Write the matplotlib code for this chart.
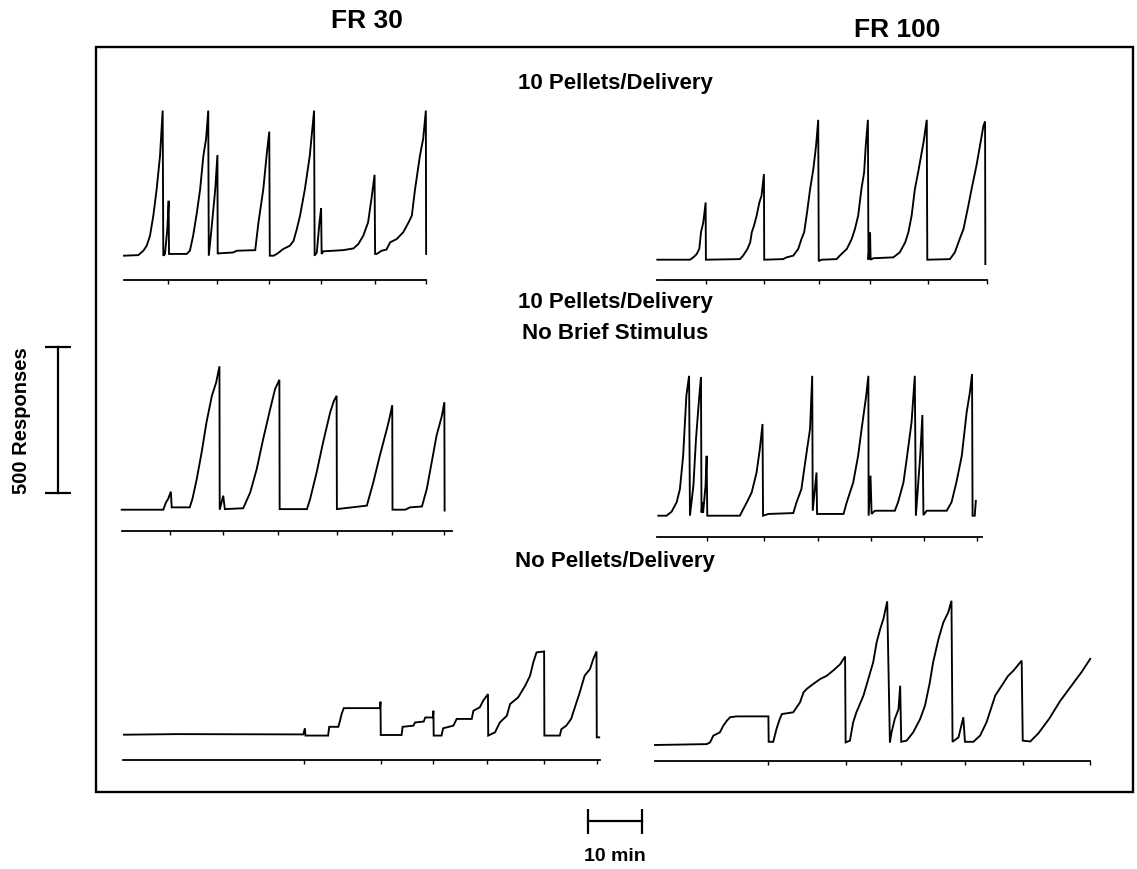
import numpy as np
import matplotlib
matplotlib.use("Agg")
import matplotlib.pyplot as plt
from matplotlib.patches import Rectangle

plt.rcParams['font.family'] = ['Liberation Sans', 'DejaVu Sans']

# cumulative records: (minutes, cumulative responses since last pen reset)
fr30_pellets = [
    (0, 0), (2.65, 2), (3.58, 17), (4.2, 34), (4.81, 68), (5.43, 137), (6.05, 228),
    (6.67, 342), (7.16, 497), (7.28, 0), (7.59, 6), (8.02, 91), (8.27, 188), (8.33, 6),
    (8.52, 6), (11.6, 6), (12.2, 17), (12.8, 68), (13.5, 148), (14.1, 228), (14.7, 342),
    (15.2, 400), (15.6, 497), (15.7, 0), (16.2, 91), (16.9, 228), (17.3, 345), (17.35, 6),
    (17.5, 8), (20.2, 11), (20.9, 17), (24.3, 19), (24.9, 114), (25.8, 228), (26.4, 342),
    (26.9, 425), (27.0, 0), (27.7, 0), (28.3, 6), (29.5, 23), (30.7, 34), (31.4, 51),
    (32.0, 91), (32.6, 137), (33.5, 228), (34.4, 342), (35.2, 497), (35.3, 0), (35.7, 11),
    (36.2, 114), (36.5, 162), (36.6, 6), (36.9, 15), (40.6, 19), (42.5, 25), (43.4, 40),
    (44.3, 68), (45.2, 114), (45.9, 205), (46.4, 277), (46.5, 6), (46.8, 6), (47.7, 17),
    (48.6, 21), (49.3, 46), (50.5, 57), (51.7, 80), (52.7, 114), (53.3, 137), (53.9, 228),
    (54.8, 342), (55.4, 400), (55.9, 497), (55.95, 6),
]
fr30_pellets_marks = [8.2, 17.3, 26.9, 36.4, 46.4, 56.0]

fr100_pellets = [
    (0, 0), (6.05, 0), (6.67, 8), (7.28, 19), (7.78, 37), (8.09, 94), (8.52, 128),
    (8.95, 196), (9.0, 0), (15.3, 2), (15.9, 14), (16.7, 37), (17.2, 59), (17.5, 94),
    (17.9, 116), (18.4, 151), (18.9, 196), (19.3, 219), (19.75, 293), (19.8, 0), (23.3, 2),
    (23.95, 8), (25.2, 14), (26.1, 37), (26.7, 71), (27.2, 94), (27.65, 151), (28.3, 242),
    (28.9, 311), (29.4, 390), (29.8, 479), (29.9, -5), (30.4, 0), (33.2, 2), (33.8, 14),
    (35.1, 37), (36.0, 71), (36.6, 105), (37.2, 151), (37.8, 242), (38.3, 299), (38.6, 390),
    (39.0, 479), (39.1, 0), (39.4, 94), (39.5, 0), (40.0, 5), (43.7, 8), (44.9, 25),
    (45.9, 59), (46.5, 94), (47.1, 151), (47.7, 242), (48.3, 299), (49.3, 402), (49.9, 479),
    (50.0, 0), (54.2, 2), (55.1, 25), (56.0, 71), (56.7, 105), (57.6, 185), (58.2, 242),
    (59.1, 322), (59.75, 390), (60.4, 459), (60.7, 473), (60.75, -15),
]
fr100_pellets_marks = [8.95, 19.75, 29.9, 39.4, 50.2, 61.0]

fr30_nostim = [
    (0, 0), (7.7, 0), (8.2, 25), (8.6, 37), (9.1, 62), (9.26, 8), (12.6, 8), (13.1, 37),
    (13.9, 105), (14.8, 196), (15.7, 299), (16.7, 390), (17.5, 436), (18.1, 491), (18.15, 0),
    (18.8, 48), (19.1, 2), (22.5, 5), (23.8, 59), (25.0, 139), (26.2, 242), (27.5, 345),
    (28.4, 413), (29.2, 445), (29.25, 2), (34.3, 2), (34.9, 37), (36.1, 128), (37.3, 231),
    (38.6, 333), (39.3, 373), (39.8, 390), (39.85, 2), (45.4, 14), (46.6, 94), (47.8, 185),
    (49.1, 276), (49.7, 322), (50.1, 358), (50.15, 0), (52.5, 0), (53.4, 8), (55.6, 11),
    (56.5, 71), (57.4, 162), (58.3, 253), (59.3, 322), (59.75, 368), (59.8, -3),
]
fr30_nostim_marks = [8.95, 18.8, 29.0, 39.8, 50.0, 59.75]

fr100_nostim = [
    (0, 0), (1.54, 0), (2.47, 14), (3.4, 46), (4.0, 91), (4.6, 205), (5.2, 411), (5.7, 479),
    (5.86, 0), (6.5, 103), (6.98, 263), (7.6, 411), (7.9, 474), (8.0, 11), (8.2, 46),
    (8.3, 11), (8.75, 103), (8.95, 205), (9.07, 0), (15.1, 0), (16.4, 46), (17.3, 80),
    (18.2, 148), (18.8, 228), (19.3, 314), (19.4, 0), (20.4, 6), (25.0, 9), (25.6, 46),
    (26.5, 91), (27.2, 183), (28.1, 297), (28.5, 479), (28.6, 17), (29.3, 148), (29.4, 6),
    (34.3, 6), (34.9, 46), (36.1, 114), (37.0, 205), (37.65, 297), (38.5, 411), (38.9, 479),
    (38.95, 0), (39.3, 137), (39.5, 6), (40.1, 17), (43.8, 17), (44.4, 46), (45.4, 114),
    (46.0, 194), (46.9, 320), (47.5, 479), (47.7, 0), (48.5, 205), (48.9, 345), (49.1, 2),
    (49.7, 17), (53.4, 17), (54.3, 46), (55.2, 114), (56.2, 205), (57.1, 354), (57.7, 422),
    (58.1, 485), (58.2, 0), (58.6, 0), (58.8, 51),
]
fr100_nostim_marks = [9.07, 19.6, 29.6, 39.4, 49.2, 58.95]

fr30_nopellets = [
    (0, 0), (9.75, 2), (33.2, 1), (33.5, 22), (33.6, -3), (37.8, -3), (38.0, 27), (39.7, 27),
    (40.0, 48), (40.3, 71), (40.7, 91), (47.4, 91), (47.5, 113), (47.55, -1), (51.4, -1),
    (51.6, 27), (53.6, 31), (53.9, 42), (55.5, 45), (55.8, 59), (57.2, 59), (57.3, 82),
    (57.35, -3), (58.8, -3), (59.1, 22), (61.0, 31), (61.6, 54), (64.4, 54), (64.7, 82),
    (65.9, 94), (66.5, 116), (67.4, 139), (67.45, -3), (68.7, 8), (69.6, 42), (70.9, 65),
    (71.5, 105), (73.0, 128), (74.3, 168), (75.2, 202), (75.8, 248), (76.4, 282),
    (77.8, 285), (77.85, -3), (80.7, -3), (81.0, 19), (81.9, 31), (82.8, 54), (83.8, 111),
    (84.4, 145), (85.3, 202), (86.3, 225), (86.9, 259), (87.5, 285), (87.55, -9), (88.0, -9),
]
fr30_nopellets_marks = [33.4, 47.5, 57.3, 67.3, 77.8, 87.5]

fr100_nopellets = [
    (0, 0), (9.57, 3), (10.2, 9), (10.8, 32), (12.0, 43), (12.65, 66), (13.3, 83), (13.9, 95),
    (15.1, 98), (21.0, 98), (21.05, 11), (21.9, 11), (22.5, 55), (23.1, 89), (23.5, 106),
    (25.6, 112), (26.85, 146), (27.5, 180), (28.1, 192), (29.3, 209), (30.6, 226),
    (31.8, 237), (33.0, 255), (34.3, 277), (35.2, 303), (35.3, 9), (36.1, 15), (36.7, 78),
    (37.3, 112), (38.6, 169), (39.5, 226), (40.4, 283), (41.05, 352), (41.7, 397),
    (42.3, 432), (43.0, 492), (43.5, 9), (43.8, 43), (44.4, 89), (45.1, 123), (45.4, 203),
    (45.6, 11), (46.6, 15), (47.8, 43), (49.1, 89), (50.0, 135), (50.9, 215), (51.5, 283),
    (52.5, 363), (53.4, 420), (54.3, 454), (54.9, 494), (55.1, 11), (56.2, 26), (57.1, 95),
    (57.4, 11), (58.95, 11), (60.2, 32), (61.4, 78), (63.0, 169), (64.2, 203), (65.4, 237),
    (66.4, 255), (67.9, 289), (68.1, 15), (69.5, 12), (71.0, 40), (73.0, 90), (75.0, 150),
    (77.0, 200), (79.0, 250), (80.6, 295),
]
fr100_nopellets_marks = [21.0, 35.3, 45.6, 57.4, 68.2, 80.6]

W, H = 1137, 870
PX_MIN = 5.4      # pixels per minute
PX_RESP = 0.292   # pixels per response

fig = plt.figure(figsize=(W / 100, H / 100), dpi=100)

# overlay in pixel space for the frame and labels
ov = fig.add_axes([0, 0, 1, 1])
ov.set_xlim(0, W)
ov.set_ylim(H, 0)
ov.axis('off')
ov.add_patch(Rectangle((96, 48), 1037, 745, fill=False, lw=1.7, color='black'))

lbl = dict(ha='center', va='center', fontweight='bold')
ov.text(367, 21, "FR 30", fontsize=19, **lbl)
ov.text(897, 30, "FR 100", fontsize=19, **lbl)
ov.text(615, 84, "10 Pellets/Delivery", fontsize=16, **lbl)
ov.text(615, 303, "10 Pellets/Delivery", fontsize=16, **lbl)
ov.text(615, 334, "No Brief Stimulus", fontsize=16, **lbl)
ov.text(615, 562, "No Pellets/Delivery", fontsize=16, **lbl)
ov.text(22, 421, "500 Responses", rotation=90, fontsize=14.5, **lbl)
ov.text(615, 857, "10 min", fontsize=14, **lbl)


def scaled_axes(x0, ybase, t_lo, t_hi, r_lo, r_hi):
    # axes whose data units are minutes / responses at the fixed recorder scale
    left = x0 + t_lo * PX_MIN
    right = x0 + t_hi * PX_MIN
    top = ybase - r_hi * PX_RESP
    bottom = ybase - r_lo * PX_RESP
    ax = fig.add_axes([left / W, 1 - bottom / H, (right - left) / W, (bottom - top) / H])
    ax.set_xlim(t_lo, t_hi)
    ax.set_ylim(r_lo, r_hi)
    ax.patch.set_alpha(0)
    return ax


panels = [
    (fr30_pellets, fr30_pellets_marks, 124, 256.7, 24, (0, 56.0)),
    (fr100_pellets, fr100_pellets_marks, 657.3, 260.7, 20, (0, 61.0)),
    (fr30_nostim, fr30_nostim_marks, 121.7, 510.7, 21.6, (0, 61.1)),
    (fr100_nostim, fr100_nostim_marks, 658.3, 516.7, 21.6, (-0.3, 59.9)),
    (fr30_nopellets, fr30_nopellets_marks, 124, 735.7, 25, (-0.25, 88.1)),
    (fr100_nopellets, fr100_nopellets_marks, 655, 746, 16.3, (0, 80.6)),
]

for rec, marks, x0, ybase, gap, span in panels:
    r_line = -gap / PX_RESP
    ax = scaled_axes(x0, ybase, span[0] - 1, span[1] + 1, r_line, 520)
    rec = np.array(rec)
    ax.plot(rec[:, 0], rec[:, 1], color='black', lw=1.35, solid_joinstyle='miter')
    for s in ['top', 'right', 'left']:
        ax.spines[s].set_visible(False)
    ax.spines['bottom'].set_bounds(span[0], span[1])
    ax.spines['bottom'].set_linewidth(1.3)
    ax.set_xticks(marks)
    ax.set_xticklabels([])
    ax.set_yticks([])
    ax.tick_params(axis='x', direction='out', length=3, width=1.0, color='black')

# scale bars: 500 responses and 10 minutes
sb = scaled_axes(58, 494, -3, 3, -20, 520)
sb.plot([0, 0], [0, 500], color='black', lw=1.6, marker='_', markersize=19, mew=1.6)
sb.axis('off')

tb = scaled_axes(588, 822, -1, 11, -50, 50)
tb.plot([0, 10], [0, 0], color='black', lw=1.6, marker='|', markersize=18, mew=1.6)
tb.axis('off')

fig.savefig("out.png", dpi=100)
